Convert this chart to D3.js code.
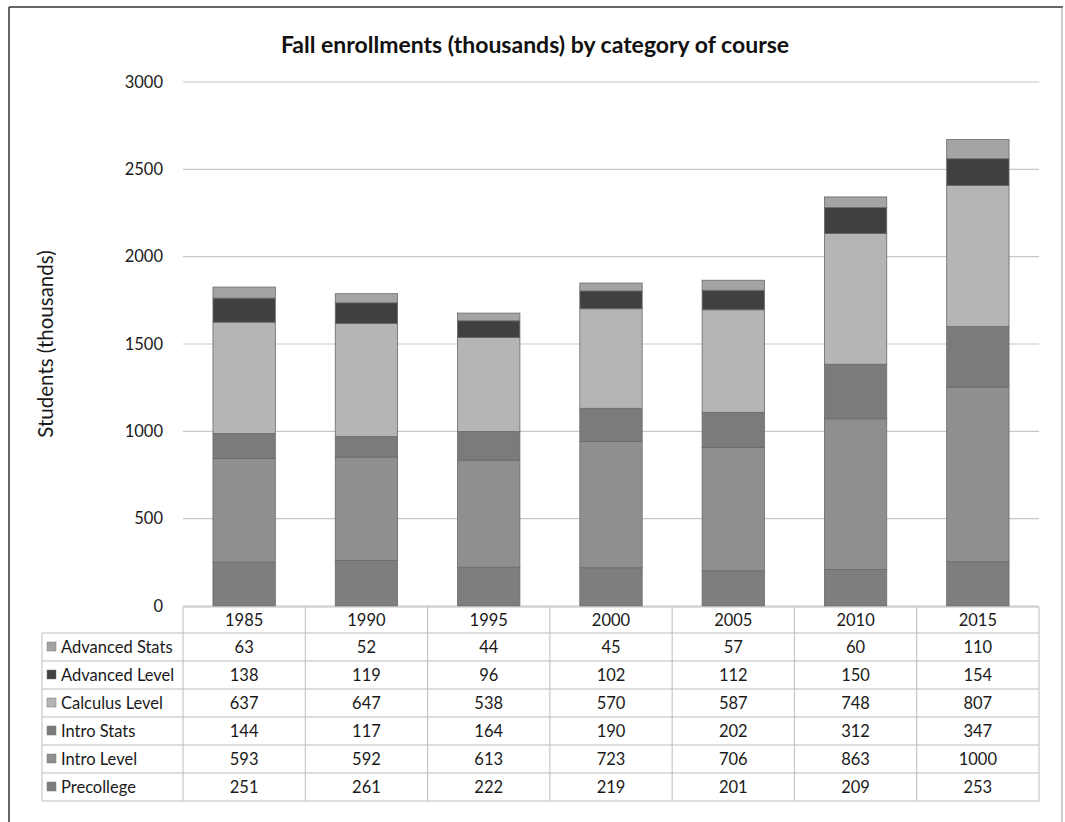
<!DOCTYPE html>
<html><head><meta charset="utf-8">
<script src="https://cdn.jsdelivr.net/npm/d3@7"></script>
<style>body{margin:0;background:#fff}svg{display:block;font-family:Lato,"Open Sans",sans-serif}</style>
</head><body>
<svg id="c" width="1065" height="822"></svg>
<script>
const years = ["1985","1990","1995","2000","2005","2010","2015"];
const seriesNames = ["Precollege","Intro Level","Intro Stats","Calculus Level","Advanced Level","Advanced Stats"];
const precollege   = [251,261,222,219,201,209,253];
const introLevel   = [593,592,613,723,706,863,1000];
const introStats   = [144,117,164,190,202,312,347];
const calculus     = [637,647,538,570,587,748,807];
const advancedLvl  = [138,119,96,102,112,150,154];
const advancedStat = [63,52,44,45,57,60,110];
const yTicks = [0,500,1000,1500,2000,2500,3000];
const colors = ["#7e7e7e","#8f8f8f","#7b7b7b","#b5b5b5","#404040","#a4a4a4"];

(function(){
const seriesVals = [precollege,introLevel,introStats,calculus,advancedLvl,advancedStat];
const rows = years.map((y,i)=>{const o={year:y};seriesNames.forEach((s,k)=>o[s]=seriesVals[k][i]);return o;});
const stacked = d3.stack().keys(seriesNames)(rows);
const txtC = "#1a1a1a";

const svg = d3.select("#c");
// frame
svg.append("line").attr("x1",9).attr("x2",1063).attr("y1",7).attr("y2",7).attr("stroke","#333").attr("stroke-width",1.5);
svg.append("line").attr("x1",9).attr("x2",9).attr("y1",7).attr("y2",822).attr("stroke","#333").attr("stroke-width",1.5);
svg.append("line").attr("x1",1062).attr("x2",1062).attr("y1",7).attr("y2",822).attr("stroke","#999").attr("stroke-width",1);

const pL=183, pR=1039, pT=82, pB=606;
const x = d3.scaleBand().domain(years).range([pL,pR]).paddingInner(0.49).paddingOuter(0.245);
const xCol = d3.scaleBand().domain(years).range([pL,pR]);
const y = d3.scaleLinear().domain([0,3000]).range([pB,pT]);

// title
svg.append("text").attr("x",535).attr("y",53).attr("text-anchor","middle").attr("font-size",23).attr("font-weight","bold").attr("fill","#111").text("Fall enrollments (thousands) by category of course");

// gridlines
svg.append("g").selectAll("line").data(yTicks).join("line")
  .attr("x1",pL).attr("x2",pR).attr("y1",d=>y(d)).attr("y2",d=>y(d))
  .attr("stroke","#c8c8c8").attr("stroke-width",1.2);
// y axis labels
const ya = svg.append("g").attr("transform",`translate(${pL-20},0)`)
  .call(d3.axisLeft(y).tickValues(yTicks).tickFormat(d3.format("d")).tickSize(0).tickPadding(0));
ya.select(".domain").remove();
ya.selectAll("text").attr("font-size",16.5).attr("fill",txtC).attr("font-family","Lato,'Open Sans',sans-serif").attr("dy","0.32em");

svg.append("text").attr("transform","translate(53,344) rotate(-90)").attr("text-anchor","middle")
  .attr("font-size",20.5).attr("fill",txtC).text("Students (thousands)");

// bars
svg.append("g").selectAll("g").data(stacked).join("g")
  .attr("fill",(d,i)=>colors[i])
  .selectAll("rect").data(d=>d).join("rect")
  .attr("x",d=>x(d.data.year)).attr("width",x.bandwidth())
  .attr("y",d=>y(d[1])).attr("height",d=>y(d[0])-y(d[1]))
  .attr("stroke","#6a6a6a").attr("stroke-width",0.8);

// table
const tblTop = 607, headH = 26, rowH = 28, tblLeft = 42;
const tRows = seriesNames.slice().reverse();
const tableBottom = tblTop+headH+rowH*tRows.length;
const g = svg.append("g");
const lineC = "#bdbdbd";
const fs = 16.5;
g.append("line").attr("x1",pL).attr("x2",pR).attr("y1",tblTop).attr("y2",tblTop).attr("stroke",lineC);
tRows.forEach((s,i)=>{
  const yy = tblTop+headH+rowH*i;
  g.append("line").attr("x1",tblLeft).attr("x2",pR).attr("y1",yy).attr("y2",yy).attr("stroke",lineC);
});
g.append("line").attr("x1",tblLeft).attr("x2",pR).attr("y1",tableBottom).attr("y2",tableBottom).attr("stroke",lineC);
g.append("line").attr("x1",tblLeft).attr("x2",tblLeft).attr("y1",tblTop+headH).attr("y2",tableBottom).attr("stroke",lineC);
years.forEach(yr=>{
  g.append("line").attr("x1",xCol(yr)).attr("x2",xCol(yr)).attr("y1",tblTop).attr("y2",tableBottom).attr("stroke",lineC);
});
g.append("line").attr("x1",pR).attr("x2",pR).attr("y1",tblTop).attr("y2",tableBottom).attr("stroke",lineC);
g.selectAll("text.h").data(years).join("text").attr("class","h")
  .attr("x",d=>xCol(d)+xCol.bandwidth()/2).attr("y",tblTop+headH/2).attr("dy","0.35em")
  .attr("text-anchor","middle").attr("font-size",fs).attr("fill",txtC).text(d=>d);
tRows.forEach((s,i)=>{
  const k = seriesNames.indexOf(s);
  const cy = tblTop+headH+rowH*i+rowH/2;
  g.append("rect").attr("x",47).attr("y",cy-5).attr("width",9).attr("height",9).attr("fill",colors[k]).attr("stroke","#777").attr("stroke-width",0.5);
  g.append("text").attr("x",61).attr("y",cy).attr("dy","0.35em").attr("font-size",fs).attr("fill",txtC).text(s);
  years.forEach((yr,j)=>{
    g.append("text").attr("x",xCol(yr)+xCol.bandwidth()/2).attr("y",cy).attr("dy","0.35em")
      .attr("text-anchor","middle").attr("font-size",fs).attr("fill",txtC).text(seriesVals[k][j]);
  });
});
})();
</script>
</body></html>
